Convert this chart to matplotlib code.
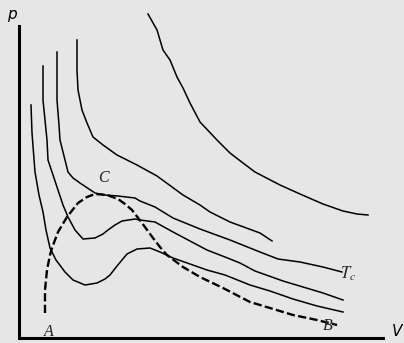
import matplotlib
matplotlib.use('Agg')
import matplotlib.pyplot as plt

# isotherms (V, p in arbitrary units)
iso1_v = [12, 13, 16, 20, 24, 27, 31, 37, 46, 54, 66, 78, 86, 91, 98, 108, 118, 131,
          141, 154, 171, 188, 206, 221, 231, 251, 274, 298, 324]
iso1_p = [233, 205, 166, 143, 126, 108, 90, 78, 66, 58, 53, 55, 59, 63, 72, 84, 89, 90,
          86, 80, 74, 68, 63, 57, 53, 47, 39, 32, 26]

iso2_v = [24, 24, 26, 28, 29, 34, 39, 44, 49, 56, 64, 76, 84, 89, 96, 103, 116, 121,
          136, 154, 171, 188, 206, 221, 236, 264, 284, 304, 324]
iso2_p = [272, 238, 218, 198, 178, 163, 148, 133, 121, 108, 99, 100, 104, 108, 113, 117, 119, 118,
          116, 106, 97, 88, 81, 75, 67, 57, 51, 45, 38]

iso_tc_v = [38, 38, 40, 41, 44, 46, 49, 54, 61, 76, 86, 99, 116, 121, 136, 154, 181,
            211, 241, 259, 281, 304, 323]
iso_tc_p = [286, 238, 213, 198, 186, 178, 166, 160, 155, 145, 143, 142, 140, 137, 131, 120, 109,
            98, 86, 79, 76, 71, 66]

iso4_v = [58, 58, 59, 63, 68, 74, 84, 98, 118, 138, 164, 181, 191, 211, 241, 253]
iso4_p = [298, 268, 248, 228, 215, 201, 193, 183, 173, 162, 143, 133, 126, 116, 105, 97]

iso5_v = [129, 138, 144, 151, 158, 164, 171, 181, 198, 211, 224, 236, 261, 281, 304, 324, 338, 349]
iso5_p = [324, 308, 288, 278, 261, 250, 235, 216, 198, 185, 175, 166, 153, 144, 134, 127, 124, 123]

# saturation dome A-C-B
dome_v = [26, 26, 28, 31, 33, 39, 48, 59, 68, 76, 88, 99, 106, 113, 123, 134, 141, 148,
          164, 181, 204, 231, 251, 274, 298, 318]
dome_p = [25, 48, 68, 83, 90, 106, 121, 135, 141, 144, 143, 139, 134, 128, 115, 100, 91, 83,
          71, 61, 50, 36, 30, 23, 18, 13]

BG = '#e6e6e6'
plt.rcParams['mathtext.fontset'] = 'stix'

fig = plt.figure(figsize=(4.04, 3.43), dpi=100, facecolor=BG)
ax = fig.add_axes([19 / 404, 5 / 343, 364 / 404, 312 / 343])
ax.set_facecolor(BG)
ax.set_xlim(0, 364)
ax.set_ylim(0, 312)

for v, p in [(iso1_v, iso1_p), (iso2_v, iso2_p), (iso_tc_v, iso_tc_p),
             (iso4_v, iso4_p), (iso5_v, iso5_p)]:
    ax.plot(v, p, color='black', lw=1.1, solid_joinstyle='round', clip_on=False)
ax.plot(dome_v, dome_p, color='black', lw=1.7, ls=(0, (3.5, 1.4)), clip_on=False)

for side in ['top', 'right']:
    ax.spines[side].set_visible(False)
for side in ['left', 'bottom']:
    ax.spines[side].set_linewidth(2.2)
ax.set_xticks([])
ax.set_yticks([])

serif = dict(family='Liberation Serif', style='italic', fontsize=11.5, color='#222222',
             ha='center', va='center', clip_on=False)
ax.text(84, 160, 'C', **serif)
ax.text(30, 6, 'A', **serif)
ax.text(309, 12, 'B', **serif)
ax.text(329, 64, r'$T_c$', fontsize=12, color='#222222', ha='center', va='center')

ax.text(-7, 323, 'p', family='DejaVu Sans', style='italic', fontsize=11,
        ha='center', va='center', clip_on=False)
ax.text(378, 6, 'V', family='DejaVu Sans', style='italic', fontsize=11,
        ha='center', va='center', clip_on=False)

fig.savefig('out.png', dpi=100, facecolor=BG)
